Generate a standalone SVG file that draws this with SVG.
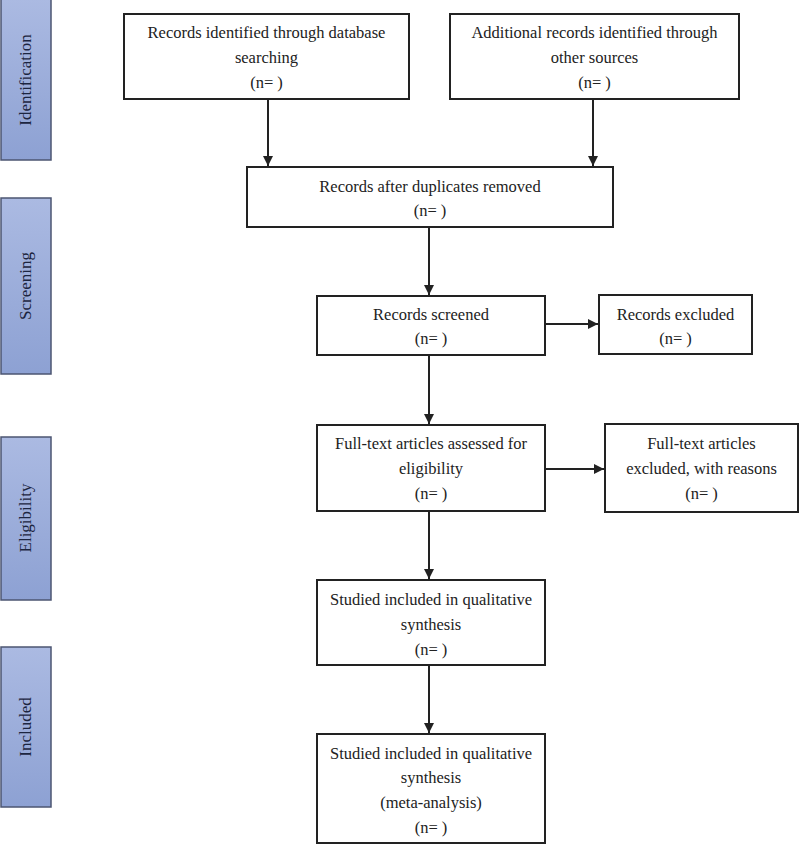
<svg xmlns="http://www.w3.org/2000/svg" width="800" height="845" viewBox="0 0 800 845">
<defs>
<linearGradient id="bar" x1="0" y1="0" x2="0" y2="1">
<stop offset="0" stop-color="#abbae2"/>
<stop offset="1" stop-color="#8da1d3"/>
</linearGradient>
<marker id="ah" viewBox="0 0 10 10" refX="10" refY="5" markerWidth="10" markerHeight="10" markerUnits="userSpaceOnUse" orient="auto">
<path d="M0,0 L10,5 L0,10 z" fill="#222"/>
</marker>
<style>
.box{fill:#fff;stroke:#222;stroke-width:2}
.bar{fill:url(#bar);stroke:#4c5672;stroke-width:1.5}
.t{font-family:"Liberation Serif","Times New Roman",serif;font-size:16.5px;fill:#222;text-anchor:middle}
.s{font-family:"Liberation Serif","Times New Roman",serif;font-size:17px;fill:#1c2540;text-anchor:middle}
.c{stroke:#222;stroke-width:2;fill:none;marker-end:url(#ah)}
</style>
</defs>
<rect width="800" height="845" fill="#fff"/>
<g id="stage-identification"><rect class="bar" x="1" y="-1" width="50" height="161"/><text class="s" transform="translate(31,80) rotate(-90)">Identification</text></g>
<g id="stage-screening"><rect class="bar" x="1" y="198" width="50" height="176"/><text class="s" transform="translate(31,286) rotate(-90)">Screening</text></g>
<g id="stage-eligibility"><rect class="bar" x="1" y="437" width="50" height="163"/><text class="s" transform="translate(31,518) rotate(-90)">Eligibility</text></g>
<g id="stage-included"><rect class="bar" x="1" y="647" width="50" height="160"/><text class="s" transform="translate(31,727) rotate(-90)">Included</text></g>

<g id="n-db"><rect class="box" x="124" y="14" width="285" height="85"/><text class="t" x="266.5" y="38">Records identified through database</text><text class="t" x="266.5" y="63">searching</text><text class="t" x="266.5" y="88">(n= )</text></g>
<g id="n-other"><rect class="box" x="450" y="14" width="289" height="85"/><text class="t" x="594.5" y="38">Additional records identified through</text><text class="t" x="594.5" y="63">other sources</text><text class="t" x="594.5" y="88">(n= )</text></g>
<g id="n-dup"><rect class="box" x="247" y="167" width="366" height="60"/><text class="t" x="430" y="192">Records after duplicates removed</text><text class="t" x="430" y="216">(n= )</text></g>
<g id="n-screened"><rect class="box" x="317" y="296" width="228" height="59"/><text class="t" x="431" y="320">Records screened</text><text class="t" x="431" y="344">(n= )</text></g>
<g id="n-excluded"><rect class="box" x="599" y="295" width="153" height="59"/><text class="t" x="675.5" y="320">Records excluded</text><text class="t" x="675.5" y="344">(n= )</text></g>
<g id="n-fulltext"><rect class="box" x="317" y="425" width="228" height="86"/><text class="t" x="431" y="449">Full-text articles assessed for</text><text class="t" x="431" y="474">eligibility</text><text class="t" x="431" y="499">(n= )</text></g>
<g id="n-ftexcluded"><rect class="box" x="605" y="424" width="193" height="88"/><text class="t" x="701.5" y="449">Full-text articles</text><text class="t" x="701.5" y="474">excluded, with reasons</text><text class="t" x="701.5" y="499">(n= )</text></g>
<g id="n-qual"><rect class="box" x="317" y="580" width="228" height="85"/><text class="t" x="431" y="605">Studied included in qualitative</text><text class="t" x="431" y="630">synthesis</text><text class="t" x="431" y="655">(n= )</text></g>
<g id="n-meta"><rect class="box" x="317" y="734" width="228" height="109"/><text class="t" x="431" y="759">Studied included in qualitative</text><text class="t" x="431" y="783">synthesis</text><text class="t" x="431" y="808">(meta-analysis)</text><text class="t" x="431" y="833">(n= )</text></g>

<g id="connectors">
<line class="c" x1="268" y1="99" x2="268" y2="166"/>
<line class="c" x1="593" y1="99" x2="593" y2="166"/>
<line class="c" x1="429" y1="227" x2="429" y2="295"/>
<line class="c" x1="545" y1="324" x2="598" y2="324"/>
<line class="c" x1="429" y1="355" x2="429" y2="424"/>
<line class="c" x1="545" y1="469" x2="604" y2="469"/>
<line class="c" x1="429" y1="511" x2="429" y2="579"/>
<line class="c" x1="429" y1="665" x2="429" y2="733"/>
</g>
</svg>
